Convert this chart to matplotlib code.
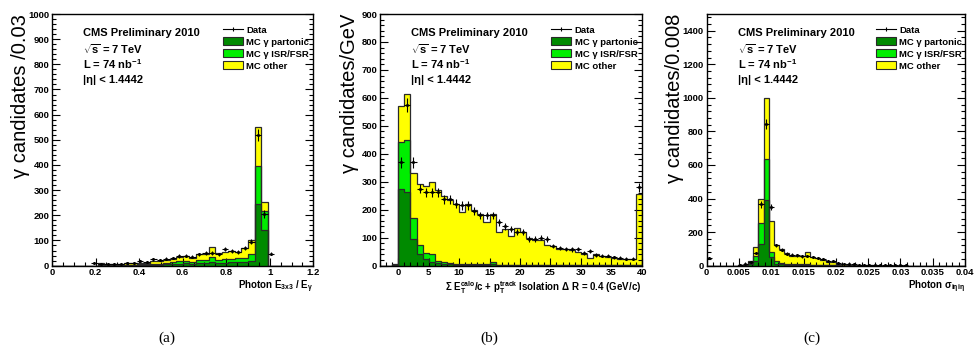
import numpy as np
import matplotlib
matplotlib.use("Agg")
import matplotlib.pyplot as plt
from matplotlib.ticker import MultipleLocator, FuncFormatter
from matplotlib.lines import Line2D
from matplotlib.patches import Patch

plt.rcParams['font.family'] = ['Liberation Sans', 'DejaVu Sans']
plt.rcParams['mathtext.fontset'] = 'custom'
plt.rcParams['mathtext.rm'] = 'Liberation Sans:bold'
plt.rcParams['mathtext.it'] = 'Liberation Sans:bold'
plt.rcParams['mathtext.bf'] = 'Liberation Sans:bold'
plt.rcParams['mathtext.sf'] = 'Liberation Sans:bold'
plt.rcParams['mathtext.default'] = 'rm'

# ---------------- data: panel (a) E3x3/E, bins of 0.03 from 0 to 1.2 ----------------
a_edges_range = (0.0, 1.2, 40)
a_partonic = [0, 0, 0, 0, 0, 0, 0, 1, 0, 0, 1, 1, 1, 2, 2, 3, 3, 5, 6, 8,
              9, 7, 10, 10, 14, 10, 12, 13, 14, 15, 20, 245, 140, 0, 0, 0, 0, 0, 0, 0]
a_isr = [0, 0, 0, 0, 0, 0, 0, 1, 1, 1, 1, 2, 2, 3, 3, 5, 5, 7, 8, 10,
         11, 8, 12, 14, 21, 12, 13, 15, 16, 17, 25, 150, 78, 0, 0, 0, 0, 0, 0, 0]
a_other = [0, 0, 0, 0, 0, 0, 0, 8, 5, 4, 4, 6, 7, 7, 7, 10, 9, 12, 13, 15,
           20, 15, 23, 21, 40, 28, 30, 32, 25, 38, 55, 155, 35, 0, 0, 0, 0, 0, 0, 0]
a_data = [0, 0, 0, 0, 0, 0, 12, 8, 6, 7, 5, 10, 12, 18, 15, 25, 22, 28, 30, 38,
          40, 35, 45, 50, 50, 45, 65, 58, 55, 70, 95, 520, 205, 48, 0, 0, 0, 0, 0, 0]

# ---------------- data: panel (b) isolation, bins of 1 GeV from -3 to 40 ----------------
b_edges_range = (-3.0, 40.0, 43)
b_partonic = [0, 0, 2, 275, 265, 95, 42, 22, 12, 8, 5, 4, 3, 3, 2, 2, 2, 2, 4, 1,
              1, 1, 1, 1, 1, 1, 1, 1, 1, 1, 1, 1, 1, 1, 1, 1, 1, 1, 1, 1,
              1, 1, 1]
b_isr = [0, 0, 1, 168, 185, 75, 33, 23, 30, 10, 7, 4, 3, 2, 3, 3, 2, 2, 8, 2,
         2, 2, 2, 1, 1, 1, 1, 1, 1, 1, 1, 1, 1, 1, 1, 1, 1, 1, 1, 1,
         1, 1, 2]
b_other = [0, 0, 2, 127, 165, 162, 217, 238, 258, 252, 238, 227, 214, 185, 215, 195, 181, 151, 173, 117,
           127, 102, 132, 118, 98, 88, 88, 73, 68, 58, 58, 53, 48, 38, 26, 38, 33, 28, 26, 23,
           23, 20, 252]
b_data = [0, 0, 0, 370, 575, 370, 275, 262, 262, 262, 237, 237, 222, 215, 215, 195, 180, 180, 180, 155,
          140, 130, 120, 120, 95, 95, 100, 95, 70, 62, 60, 58, 60, 45, 52, 38, 35, 35, 30, 28,
          25, 25, 280]

# ---------------- data: panel (c) sigma_ietaieta, bins of 0.0008 from 0 to 0.04 ----------------
c_edges_range = (0.0, 0.04, 50)
c_partonic = [0, 0, 0, 0, 0, 0, 1, 2, 8, 30, 130, 390, 50, 12, 8, 6, 5, 5, 4, 4,
              3, 2, 2, 1, 1, 0, 0, 0, 0, 0, 0, 0, 0, 0, 0, 0, 0, 0, 0, 0,
              0, 0, 0, 0, 0, 0, 0, 0, 0, 0]
c_isr = [0, 0, 0, 0, 0, 0, 0, 2, 7, 30, 125, 245, 30, 13, 7, 6, 5, 5, 4, 4,
         3, 3, 2, 2, 1, 1, 0, 0, 0, 0, 0, 0, 0, 0, 0, 0, 0, 0, 0, 0,
         0, 0, 0, 0, 0, 0, 0, 0, 0, 0]
c_other = [0, 0, 0, 0, 0, 0, 1, 2, 10, 48, 145, 365, 185, 100, 85, 62, 45, 45, 50, 72,
           48, 40, 32, 20, 20, 10, 8, 6, 4, 3, 2, 1, 1, 0, 0, 0, 0, 0, 0, 0,
           0, 0, 0, 0, 0, 0, 0, 0, 0, 0]
c_data = [45, 0, 0, 0, 0, 0, 4, 8, 20, 75, 365, 845, 350, 120, 95, 70, 65, 62, 55, 58,
          52, 45, 38, 28, 28, 15, 12, 10, 8, 6, 5, 4, 3, 3, 2, 2, 1, 1, 1, 0,
          0, 0, 0, 0, 0, 0, 0, 0, 0, 0]

ylabels = ["\u03b3 candidates /0.03", "\u03b3 candidates/GeV", "\u03b3 candidates/0.008"]
xlabels = [r"Photon E$_{3x3}$ / E$_{\gamma}$",
           r"$\Sigma$ E$_{T}^{calo}$/c + p$_{T}^{track}$ Isolation $\Delta$ R = 0.4 (GeV/c)",
           r"Photon $\sigma_{i\eta i\eta}$"]
panel_tags = ["(a)", "(b)", "(c)"]
info_lines = ["CMS Preliminary 2010", r"$\sqrt{s}$ = 7 TeV", r"L = 74 nb$^{-1}$", "|\u03b7| < 1.4442"]
legend_labels = ["Data", "MC \u03b3 partonic", "MC \u03b3 ISR/FSR", "MC other"]

C_PART = "#008a00"
C_ISR = "#00ee00"
C_OTHER = "#ffff00"
C_EDGE = "#2a2a2a"

W, H = 974, 352
fig = plt.figure(figsize=(W / 100, H / 100), dpi=100)

panels = [
    dict(rng=a_edges_range, part=a_partonic, isr=a_isr, other=a_other, data=a_data,
         box=(52, 313.3), ylim=1000, xmaj=0.2, xmin=0.05, ymaj=100, ymin=20, tagx=167, ylx=-0.083),
    dict(rng=b_edges_range, part=b_partonic, isr=b_isr, other=b_other, data=b_data,
         box=(380, 641.7), ylim=900, xmaj=5, xmin=1, ymaj=100, ymin=20, tagx=489, ylx=-0.08),
    dict(rng=c_edges_range, part=c_partonic, isr=c_isr, other=c_other, data=c_data,
         box=(706.7, 965), ylim=1500, xmaj=0.005, xmin=0.001, ymaj=200, ymin=40, tagx=812, ylx=-0.088),
]

top_px, bot_px = 14.0, 265.6
for k, p in enumerate(panels):
    l, r = p['box']
    ax = fig.add_axes([l / W, 1 - bot_px / H, (r - l) / W, (bot_px - top_px) / H])
    lo, hi, n = p['rng']
    edges = np.linspace(lo, hi, n + 1)
    part = np.array(p['part'], float)
    isr = np.array(p['isr'], float)
    other = np.array(p['other'], float)
    s1 = part
    s2 = part + isr
    s3 = s2 + other
    for vals, col in [(s3, C_OTHER), (s2, C_ISR), (s1, C_PART)]:
        ax.stairs(vals, edges, fill=True, facecolor=col, edgecolor='none', zorder=1)
        ax.stairs(vals, edges, color=C_EDGE, lw=0.9, zorder=2)
    d = np.array(p['data'], float)
    centers = 0.5 * (edges[:-1] + edges[1:])
    hw = 0.5 * (edges[1] - edges[0])
    m = d > 0
    ax.errorbar(centers[m], d[m], xerr=hw, yerr=np.sqrt(d[m]), fmt='o', ms=1.2,
                color='black', lw=0.8, capsize=0, zorder=4)

    ax.set_xlim(lo, hi)
    ax.set_ylim(0, p['ylim'])
    ax.xaxis.set_major_locator(MultipleLocator(p['xmaj']))
    ax.xaxis.set_minor_locator(MultipleLocator(p['xmin']))
    ax.yaxis.set_major_locator(MultipleLocator(p['ymaj']))
    ax.yaxis.set_minor_locator(MultipleLocator(p['ymin']))
    ax.xaxis.set_major_formatter(FuncFormatter(lambda v, pos: "%g" % round(v, 6)))
    ax.yaxis.set_major_formatter(FuncFormatter(lambda v, pos: "%g" % v))
    ax.tick_params(which='both', direction='in', right=True, top=False, width=0.8)
    ax.tick_params(which='major', length=5.5, labelsize=6.8, pad=2)
    ax.tick_params(which='minor', length=2.8)
    for lab in ax.get_xticklabels() + ax.get_yticklabels():
        lab.set_fontweight('bold')
    for s in ax.spines.values():
        s.set_linewidth(1.0)

    ax.set_ylabel(ylabels[k], fontsize=14.5, loc='top')
    ax.yaxis.set_label_coords(p['ylx'], 1.0)
    ax.set_xlabel(xlabels[k], fontsize=7, fontweight='bold', loc='right', labelpad=1)

    ys = [0.924, 0.861, 0.801, 0.738]
    for t, yy in zip(info_lines, ys):
        ax.text(0.12, yy, t, transform=ax.transAxes, fontsize=8, fontweight='bold',
                va='center', ha='left')

    handles = [Line2D([], [], color='black', lw=0.8, marker='|', ms=3, mew=0.8),
               Patch(facecolor=C_PART, edgecolor=C_EDGE, lw=0.8),
               Patch(facecolor=C_ISR, edgecolor=C_EDGE, lw=0.8),
               Patch(facecolor=C_OTHER, edgecolor=C_EDGE, lw=0.8)]
    leg = ax.legend(handles, legend_labels, loc='upper left', bbox_to_anchor=(0.655, 0.955),
                    frameon=False, prop=dict(size=6.8, weight='bold'), borderpad=0,
                    handlelength=2.1, handleheight=0.95, labelspacing=0.28,
                    handletextpad=0.35, borderaxespad=0)

    fig.text(p['tagx'] / W, 1 - 338 / H, panel_tags[k], family='Liberation Serif',
             fontsize=11, ha='center', va='center')

fig.savefig("out.png", dpi=100)
